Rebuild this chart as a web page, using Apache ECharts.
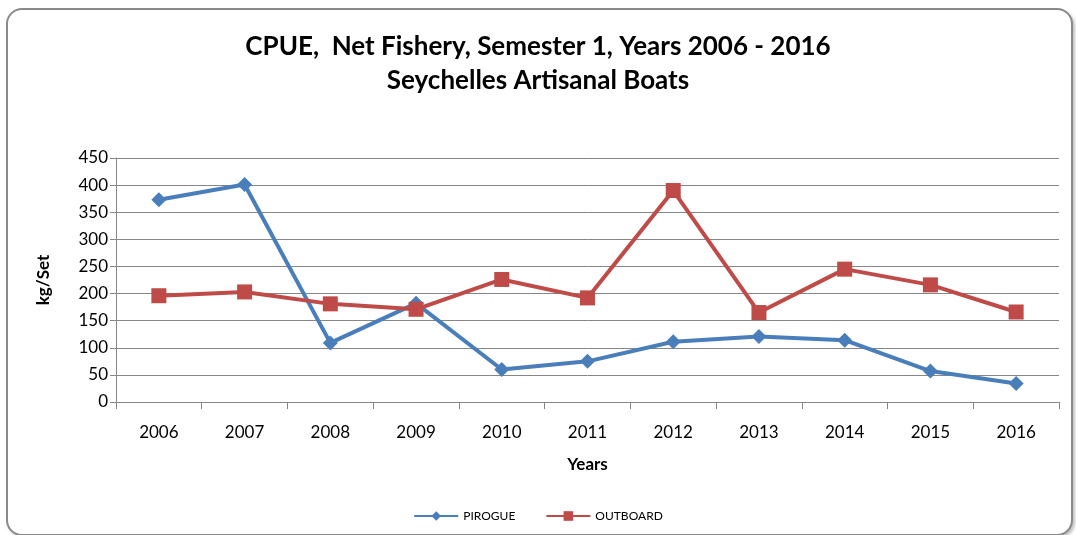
<!DOCTYPE html>
<html>
<head>
<meta charset="utf-8">
<script src="https://cdn.jsdelivr.net/npm/echarts@6/dist/echarts.min.js"></script>
<style>
html,body{margin:0;padding:0;background:#fff;}
#frame{position:absolute;left:6px;top:8px;width:1063px;height:524px;border:2px solid #8a8a8a;border-radius:16px;box-shadow:2px 2px 3px rgba(0,0,0,0.25);background:#fff;}
#main{position:absolute;left:0;top:0;width:1076px;height:535px;}
</style>
</head>
<body>
<div id="frame"></div>
<div id="main"></div>
<script>
const years = ['2006','2007','2008','2009','2010','2011','2012','2013','2014','2015','2016'];
const pirogue = [373, 401, 109, 182, 60, 75, 111, 121, 114, 57, 34];
const outboard = [196, 203, 181, 171, 226, 192, 390, 165, 245, 216, 166];
const yTicks = [0, 50, 100, 150, 200, 250, 300, 350, 400, 450];

const chart = echarts.init(document.getElementById('main'), null, {renderer:'canvas'});
const font = 'Lato, "Open Sans", sans-serif';
chart.setOption({
  backgroundColor: 'transparent',
  animation: false,
  title: {
    text: 'CPUE,  Net Fishery, Semester 1, Years 2006 - 2016\nSeychelles Artisanal Boats',
    left: 'center', top: 25,
    textStyle: {fontFamily: font, fontSize: 26, fontWeight: 'bold', color: '#000', lineHeight: 34}
  },
  legend: {
    bottom: 8, left: 'center',
    itemWidth: 44, itemHeight: 12, itemGap: 30,
    textStyle: {fontFamily: font, fontSize: 12, color: '#000'},
    data: ['PIROGUE', 'OUTBOARD']
  },
  grid: {left: 116, right: 17, top: 158, bottom: 133, containLabel: false},
  xAxis: {
    type: 'category', data: years, boundaryGap: true,
    name: 'Years', nameLocation: 'middle', nameGap: 54,
    nameTextStyle: {fontFamily: font, fontSize: 17, fontWeight: 'bold', color: '#000'},
    axisLine: {lineStyle: {color: '#868686', width: 1}},
    axisTick: {show: true, length: 7, lineStyle: {color: '#868686'}},
    axisLabel: {fontFamily: font, fontSize: 17, color: '#000', margin: 22}
  },
  yAxis: {
    type: 'value', min: yTicks[0], max: yTicks[yTicks.length-1], interval: 50,
    name: 'kg/Set', nameLocation: 'middle', nameGap: 64, nameRotate: 90,
    nameTextStyle: {fontFamily: font, fontSize: 17, fontWeight: 'bold', color: '#000'},
    axisLine: {show: true, lineStyle: {color: '#868686', width: 1}},
    axisTick: {show: true, length: 6, lineStyle: {color: '#868686'}},
    axisLabel: {fontFamily: font, fontSize: 17, color: '#000', margin: 8},
    splitLine: {lineStyle: {color: '#868686', width: 1}}
  },
  series: [
    {
      name: 'PIROGUE', type: 'line', data: pirogue,
      symbol: 'diamond', symbolSize: 15,
      lineStyle: {color: '#4a7ebb', width: 4},
      itemStyle: {color: '#4a7ebb'}
    },
    {
      name: 'OUTBOARD', type: 'line', data: outboard,
      symbol: 'rect', symbolSize: 15,
      lineStyle: {color: '#be4b48', width: 4},
      itemStyle: {color: '#be4b48'}
    }
  ]
});
</script>
</body>
</html>
